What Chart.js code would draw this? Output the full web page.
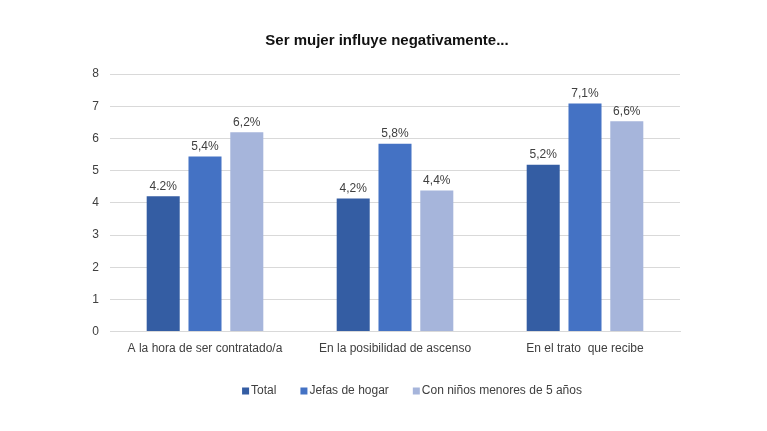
<!DOCTYPE html>
<html>
<head>
<meta charset="utf-8">
<script src="https://cdn.jsdelivr.net/npm/chart.js@4"></script>
<style>
  html,body{margin:0;padding:0;background:#fff}
  #wrap{width:767px;height:431px}
</style>
</head>
<body>
<div id="wrap"><canvas id="myChart" width="767" height="431"></canvas></div>
<script>
let categorias=["A la hora de ser contratado/a","En la posibilidad de ascenso","En el trato  que recibe"]
let total=[4.2,4.13,5.18]
let jefas=[5.44,5.83,7.08]
let ninos=[6.19,4.38,6.53]
let etqTotal=["4.2%","4,2%","5,2%"]
let etqJefas=["5,4%","5,8%","7,1%"]
let etqNinos=["6,2%","4,4%","6,6%"]
let ticksY=[0,1,2,3,4,5,6,7,8]

let fuente="'Liberation Sans', Arial, sans-serif"

// etiquetas encima de cada barra + leyenda abajo
let etiquetas={
  id:"etiquetas",
  afterLayout(chart){
    chart.titleBlock.left+=17
    chart.titleBlock.right+=17
  },
  afterDatasetsDraw(chart){
    let c=chart.ctx
    c.save()
    c.font="12px "+fuente
    c.fillStyle="#404040"
    c.textAlign="center"
    c.textBaseline="bottom"
    chart.data.datasets.forEach((ds,i)=>{
      chart.getDatasetMeta(i).data.forEach((bar,j)=>{
        c.fillText(ds.etq[j],bar.x,bar.y-4)
      })
    })
    c.restore()
  },
  afterDraw(chart){
    let c=chart.ctx
    c.save()
    c.font="12px "+fuente
    c.textBaseline="middle"
    let caja=7, sep=2, hueco=24
    let anchos=chart.data.datasets.map(ds=>caja+sep+c.measureText(ds.label).width)
    let totalAncho=anchos.reduce((a,b)=>a+b,0)+hueco*(anchos.length-1)
    let x=412-totalAncho/2
    let y=chart.height-40
    chart.data.datasets.forEach((ds,i)=>{
      c.fillStyle=ds.backgroundColor
      c.fillRect(x,y-3.5,caja,caja)
      c.fillStyle="#404040"
      c.fillText(ds.label,x+caja+sep,y)
      x+=anchos[i]+hueco
    })
    c.restore()
  }
}

let ctx=document.getElementById("myChart").getContext("2d")
let myChart=new Chart(ctx,{
  type:"bar",
  data:{
    labels:categorias,
    datasets:[
      {label:"Total",data:total,etq:etqTotal,backgroundColor:"#345DA3"},
      {label:"Jefas de hogar",data:jefas,etq:etqJefas,backgroundColor:"#4472C4"},
      {label:"Con niños menores de 5 años",data:ninos,etq:etqNinos,backgroundColor:"#A6B5DB"}
    ]
  },
  options:{
    responsive:false,
    animation:false,
    layout:{padding:{left:60,right:87,top:22,bottom:73}},
    datasets:{bar:{barPercentage:0.79,categoryPercentage:0.66}},
    plugins:{
      title:{display:true,text:"Ser mujer influye negativamente...",color:"#111",
        font:{family:fuente,size:15,weight:"bold"},padding:{top:10,bottom:24}},
      legend:{display:false},
      tooltip:{enabled:false}
    },
    scales:{
      x:{grid:{display:false},border:{color:"#d9d9d9"},
        ticks:{color:"#404040",padding:2,font:{family:fuente,size:12}}},
      y:{min:0,max:8,
        afterFit(axis){axis.width=50},
        afterBuildTicks(axis){axis.ticks=ticksY.map(v=>({value:v}))},
        grid:{color:"#d9d9d9",drawTicks:false},border:{display:false},
        ticks:{color:"#404040",padding:11,font:{family:fuente,size:12}}}
    }
  },
  plugins:[etiquetas]
})
</script>
</body>
</html>
